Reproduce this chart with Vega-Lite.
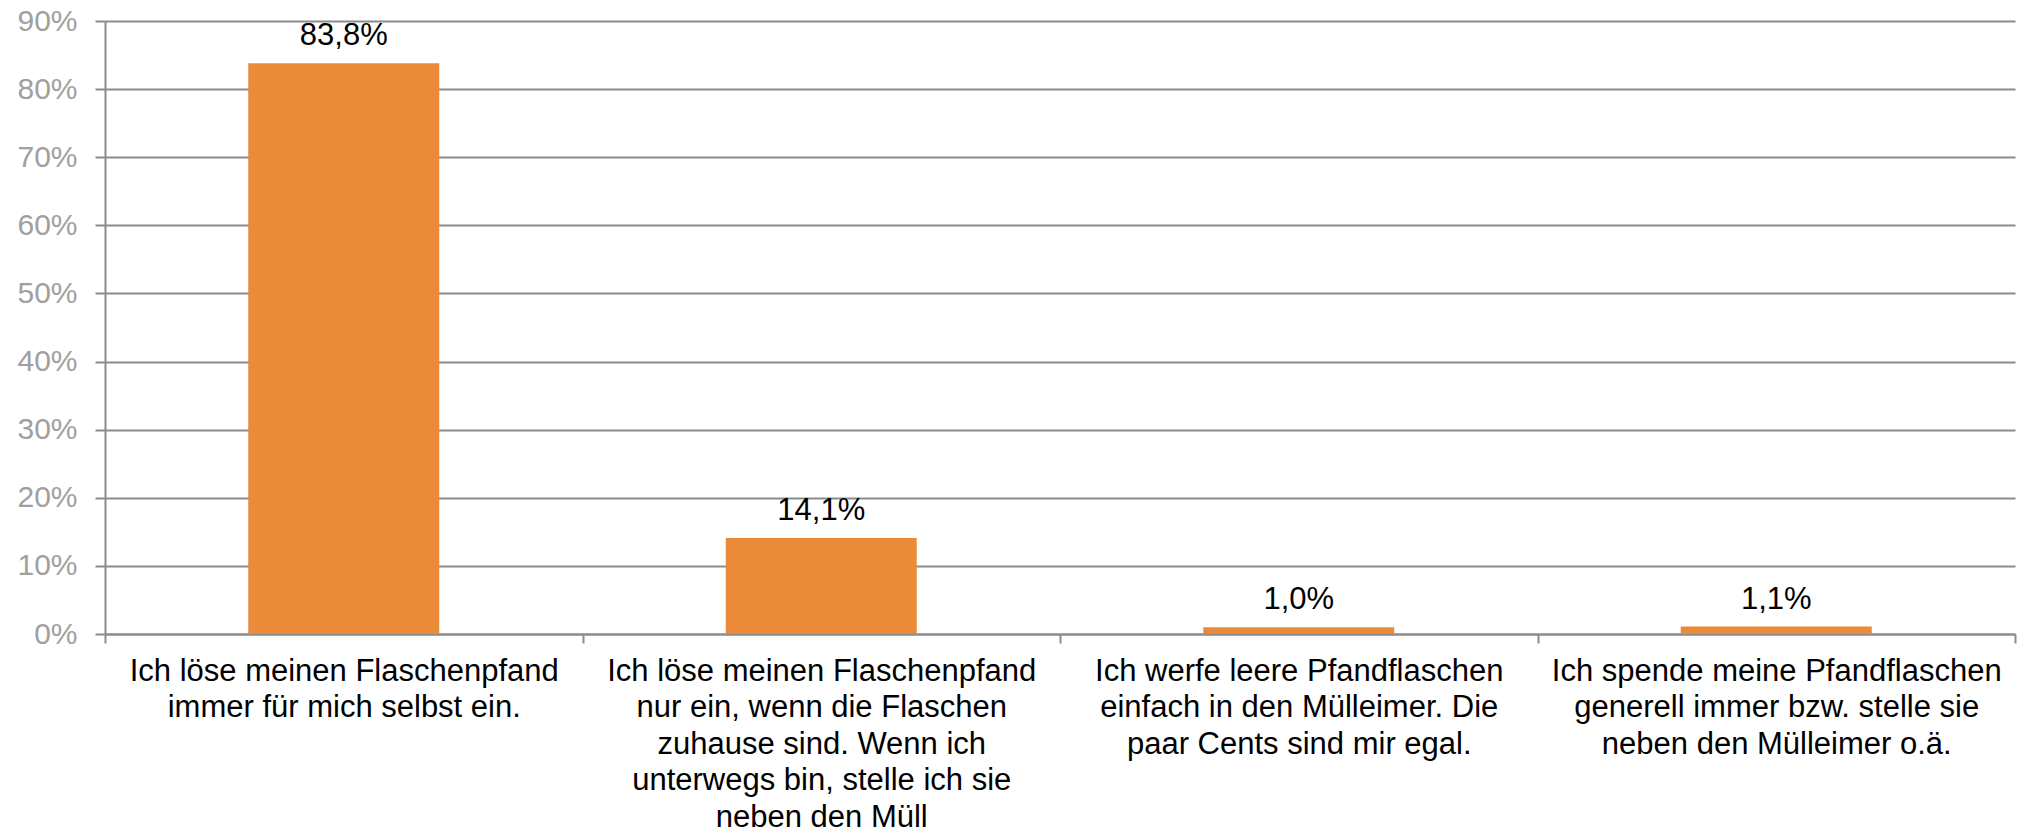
{
  "$schema": "https://vega.github.io/schema/vega-lite/v6.json",
  "autosize": {"type": "none"},
  "width": 1910,
  "height": 613,
  "padding": {"left": 105, "top": 21, "right": 9, "bottom": 199},
  "background": "white",
  "config": {
    "view": {"stroke": null},
    "font": "Liberation Sans",
    "locale": {"number": {"decimal": ",", "thousands": ".", "grouping": [3], "currency": ["", " €"]}}
  },
  "data": {
    "values": [
      {"kategorie": "Ich löse meinen Flaschenpfand|immer für mich selbst ein.", "anteil": 0.838},
      {"kategorie": "Ich löse meinen Flaschenpfand|nur ein, wenn die Flaschen|zuhause sind. Wenn ich|unterwegs bin, stelle ich sie|neben den Müll", "anteil": 0.141},
      {"kategorie": "Ich werfe leere Pfandflaschen|einfach in den Mülleimer. Die|paar Cents sind mir egal.", "anteil": 0.010},
      {"kategorie": "Ich spende meine Pfandflaschen|generell immer bzw. stelle sie|neben den Mülleimer o.ä.", "anteil": 0.011}
    ]
  },
  "encoding": {
    "x": {
      "field": "kategorie",
      "type": "nominal",
      "sort": null,
      "scale": {"paddingInner": 0, "paddingOuter": 0},
      "axis": {
        "title": null,
        "labelAngle": 0,
        "labelExpr": "split(datum.label, '|')",
        "labelFont": "Liberation Sans",
        "labelFontSize": 31,
        "labelColor": "#000000",
        "labelLineHeight": 36.5,
        "labelPadding": 13,
        "labelLimit": 0,
        "tickBand": "extent",
        "tickSize": 9,
        "tickColor": "#8c8c8c",
        "tickWidth": 2,
        "domainColor": "#8c8c8c",
        "domainWidth": 2,
        "grid": false
      }
    },
    "y": {
      "field": "anteil",
      "type": "quantitative",
      "scale": {"domain": [0, 0.9], "nice": false},
      "axis": {
        "title": null,
        "format": ".0%",
        "values": [0, 0.1, 0.2, 0.3, 0.4, 0.5, 0.6, 0.7, 0.8, 0.9],
        "labelFont": "Liberation Sans",
        "labelFontSize": 30,
        "labelColor": "#a0a0a0",
        "labelPadding": 18,
        "tickSize": 10,
        "tickColor": "#8c8c8c",
        "tickWidth": 2,
        "domainColor": "#8c8c8c",
        "domainWidth": 2,
        "grid": true,
        "gridColor": "#8c8c8c",
        "gridWidth": 2
      }
    }
  },
  "layer": [
    {
      "mark": {"type": "bar", "color": "#EA8B3A", "width": {"band": 0.4}}
    },
    {
      "mark": {"type": "text", "baseline": "alphabetic", "align": "center", "dy": -18, "fontSize": 31, "color": "#000000", "font": "Liberation Sans"},
      "encoding": {
        "text": {"field": "anteil", "type": "quantitative", "format": ".1%"}
      }
    }
  ]
}
